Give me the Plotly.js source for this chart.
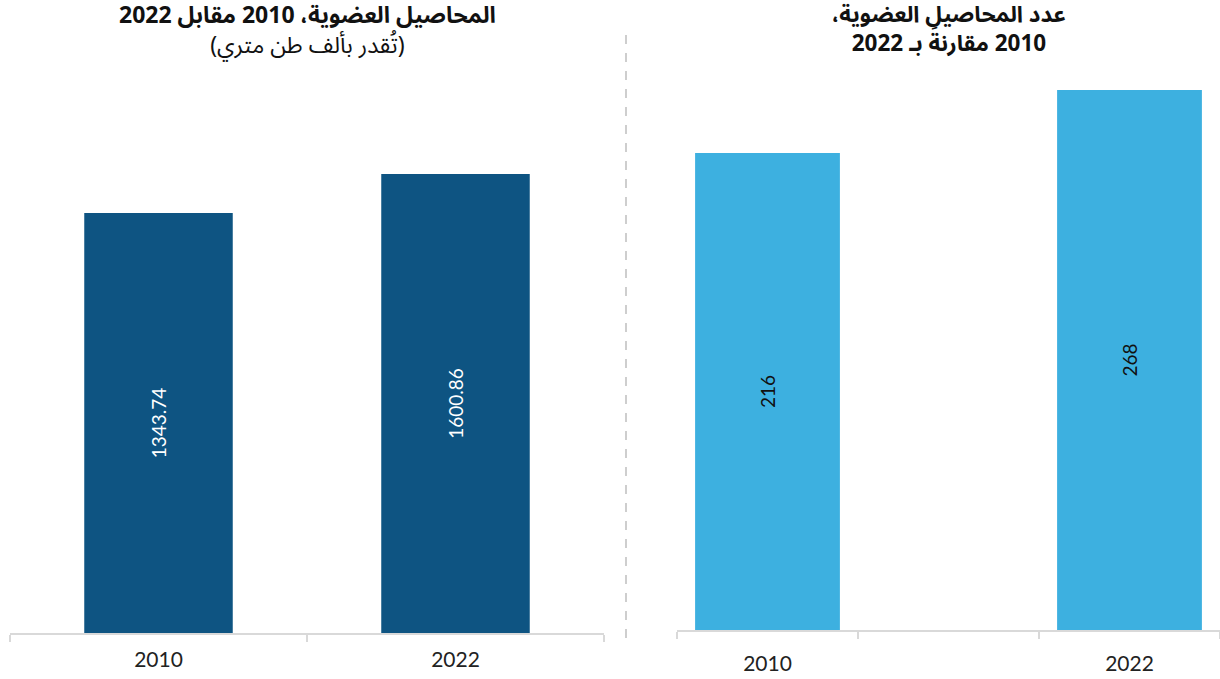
<!DOCTYPE html>
<html><head><meta charset="utf-8">
<script src="https://cdn.plot.ly/plotly-3.0.1.min.js"></script>
<style>html,body{margin:0;padding:0;background:#fff}#chart{width:1220px;height:679px}</style>
</head><body><div id="chart"></div>
<script>
// ---- data ----
const leftCategories = ["2010", "2022"];
const leftValues = [1343.74, 1600.86];
const rightCategories = ["2010", "2022"];
const rightValues = [216, 268];
const leftTitle = "المحاصيل العضوية، 2010 مقابل 2022";
const leftSubtitle = "(تُقدر بألف طن متري)";
const rightTitleLine1 = "عدد المحاصيل العضوية،";
const rightTitleLine2 = "2010 مقارنةً بـ 2022";

// ---- presentation ----
const W = 1220, H = 679;
const leftFloor = -1425, leftTop = 2220.6;    // visible value window of left panel
const rightFloor = -177.7, rightTop = 276.25;  // visible value window of right panel
const numFont = "Lato, 'Open Sans', sans-serif";
const arFont = "'Noto Sans Arabic', 'DejaVu Sans', sans-serif";
const rtl = s => "\u200F" + s + "\u200F";
const px = x => x / W, py = y => 1 - y / H;

const traces = [
  {
    type: "bar", xaxis: "x", yaxis: "y",
    x: leftCategories,
    y: leftValues.map(v => v - leftFloor), base: leftFloor,
    width: 0.5,
    marker: {color: "#0E5482"},
    text: leftValues.map(v => String(v)),
    textposition: "inside", insidetextanchor: "middle", textangle: -90,
    constraintext: "none",
    textfont: {family: numFont, size: 19, color: "#FFFFFF"},
    hoverinfo: "skip"
  },
  {
    type: "bar", xaxis: "x2", yaxis: "y2",
    x: rightCategories.map((c, i) => i),
    y: rightValues.map(v => v - rightFloor), base: rightFloor,
    width: 0.4,
    marker: {color: "#3DB0E0"},
    text: rightValues.map(v => String(v)),
    textposition: "inside", insidetextanchor: "middle", textangle: -90,
    constraintext: "none",
    textfont: {family: numFont, size: 19, color: "#111111"},
    hoverinfo: "skip"
  }
];

const axisLine = {showline: true, linecolor: "#D9D9D9", linewidth: 1.5, showgrid: false, zeroline: false,
  tickfont: {family: numFont, size: 21, color: "#222222"}, fixedrange: true};

const layout = {
  width: W, height: H,
  margin: {l: 0, r: 0, t: 0, b: 0},
  paper_bgcolor: "#FFFFFF", plot_bgcolor: "rgba(0,0,0,0)",
  showlegend: false,
  xaxis: Object.assign({}, axisLine, {
    domain: [px(10), px(604)], type: "category", range: [-0.5, 1.5],
    ticks: "outside", ticklen: 7, tickcolor: "#D9D9D9", tickwidth: 1.5, tickson: "boundaries",
    ticklabelstandoff: 7, anchor: "y"
  }),
  yaxis: {domain: [py(633), py(80)], range: [leftFloor, leftTop], visible: false, fixedrange: true, anchor: "x"},
  xaxis2: Object.assign({}, axisLine, {
    domain: [px(677), 1], type: "linear", range: [-0.25, 1.25],
    tickmode: "array", tickvals: rightCategories.map((c, i) => i), ticktext: rightCategories,
    ticks: "", ticklabelstandoff: 14,
    minor: {tickmode: "array", tickvals: [-0.25, 0.25, 0.75, 1.25], ticks: "outside", ticklen: 7,
            tickcolor: "#D9D9D9", tickwidth: 1.5, showgrid: false},
    anchor: "y2"
  }),
  yaxis2: {domain: [py(630), py(80)], range: [rightFloor, rightTop], visible: false, fixedrange: true, anchor: "x2"},
  shapes: [
    {type: "line", xref: "paper", yref: "paper", x0: px(626), x1: px(626), y0: py(35), y1: py(640),
     line: {color: "#BFBFBF", width: 1.5, dash: "dash"}}
  ],
  annotations: [
    {xref: "paper", yref: "paper", x: px(307), y: py(31), xanchor: "center", yanchor: "middle", showarrow: false,
     borderpad: 0,
     text: "<b>" + rtl(leftTitle) + "</b><br>" + rtl(leftSubtitle),
     font: {family: arFont, size: 23, color: "#111111"}},
    {xref: "paper", yref: "paper", x: px(949), y: py(30), xanchor: "center", yanchor: "middle", showarrow: false,
     borderpad: 0,
     text: "<b>" + rtl(rightTitleLine1) + "<br>" + rtl(rightTitleLine2) + "</b>",
     font: {family: arFont, size: 22.5, color: "#111111"}}
  ]
};

Plotly.newPlot("chart", traces, layout, {staticPlot: true, displayModeBar: false});
</script></body></html>
